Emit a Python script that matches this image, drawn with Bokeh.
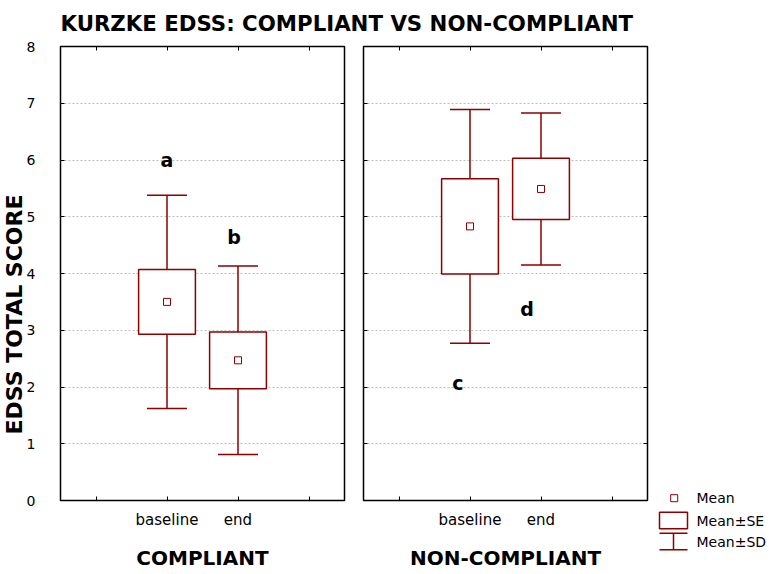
from bokeh.plotting import figure
from bokeh.models import (ColumnDataSource, Range1d, FactorRange, FixedTicker,
                          LinearAxis, CategoricalAxis, Whisker, TeeHead, Title,
                          CustomLabelingPolicy)
from bokeh.layouts import row, column
from bokeh.embed import file_html
from bokeh.resources import INLINE
from bokeh.core.properties import value

# ---------------- data ----------------
title_text = "KURZKE EDSS: COMPLIANT VS NON-COMPLIANT"
y_title = "EDSS TOTAL SCORE"
groups = ["COMPLIANT", "NON-COMPLIANT"]
time_points = ["baseline", "end"]

compliant_mean = [3.50, 2.47]
compliant_se = [0.57, 0.50]
compliant_sd = [1.88, 1.66]

noncompliant_mean = [4.83, 5.49]
noncompliant_se = [0.84, 0.54]
noncompliant_sd = [2.06, 1.34]

compliant_letters = ["a", "b"]
compliant_letter_y = [6.00, 4.65]
noncompliant_letters = ["c", "d"]
noncompliant_letter_y = [2.07, 3.37]

y_ticks = [0, 1, 2, 3, 4, 5, 6, 7, 8]
legend_labels = ["Mean", "Mean\u00b1SE", "Mean\u00b1SD"]

# ---------------- style ----------------
RED = "#8b0000"
FONT = "DejaVu Sans"
letter_dx = {"COMPLIANT": [0, -4], "NON-COMPLIANT": [-12, -14]}
TOP, FRAME_H, BOTTOM = 8, 454, 74

HIDE_ALL = "for (const i of [...indices]) { indices.unset(i) } return indices"
HIDE_ENDS = "indices.unset(0); indices.unset(indices.size - 1); return indices"


def style_axis(ax, show_labels, ticks_in=4):
    ax.axis_line_color = None
    ax.major_tick_in = ticks_in
    ax.major_tick_out = 0
    ax.minor_tick_line_color = None
    ax.major_tick_line_color = "black"
    ax.major_tick_line_width = 1
    ax.major_label_text_font = FONT
    ax.major_label_text_color = "black"
    if not show_labels:
        ax.major_label_policy = CustomLabelingPolicy(code=HIDE_ALL)
        ax.major_label_text_font_size = "1px"
        ax.major_label_standoff = 0


def make_panel(group, mean, se, sd, letters, letter_y, show_y, left_border, right_border):
    factors = [" "] + time_points + ["  "]
    p = figure(x_range=FactorRange(*factors, range_padding=0, factor_padding=0),
               y_range=Range1d(0, 8),
               frame_width=284, frame_height=FRAME_H,
               min_border_left=left_border, min_border_right=right_border,
               min_border_top=TOP, min_border_bottom=BOTTOM,
               output_backend="svg", toolbar_location=None, title=None)
    p.background_fill_color = "white"
    p.border_fill_color = "white"
    p.outline_line_color = "black"
    p.outline_line_width = 1.5
    p.xgrid.grid_line_color = None
    p.ygrid.grid_line_color = "#bdbdbd"
    p.ygrid.grid_line_dash = "2 2"
    p.ygrid.grid_line_width = 1
    p.ygrid.ticker = FixedTicker(ticks=y_ticks)

    # bottom axis
    xb = p.xaxis[0]
    style_axis(xb, True)
    xb.major_label_policy = CustomLabelingPolicy(code=HIDE_ENDS)
    xb.major_label_text_font_size = "15px"
    xb.major_label_standoff = 10
    xb.axis_label = group
    xb.axis_label_text_font = FONT
    xb.axis_label_text_font_style = "bold"
    xb.axis_label_text_font_size = "20px"
    xb.axis_label_text_color = "black"
    xb.axis_label_standoff = 14

    # left axis
    yl = p.yaxis[0]
    yl.ticker = FixedTicker(ticks=y_ticks)
    style_axis(yl, show_y)
    if show_y:
        yl.major_label_text_font_size = "14px"
        yl.major_label_standoff = 25

    # top & right axes (inward ticks, no labels)
    xt = CategoricalAxis()
    style_axis(xt, False)
    p.add_layout(xt, "above")
    yr = LinearAxis(ticker=FixedTicker(ticks=y_ticks))
    style_axis(yr, False)
    p.add_layout(yr, "right")

    src = ColumnDataSource(dict(
        tp=time_points,
        mean=mean,
        se_lo=[m - s for m, s in zip(mean, se)],
        se_hi=[m + s for m, s in zip(mean, se)],
        sd_lo=[m - s for m, s in zip(mean, sd)],
        sd_hi=[m + s for m, s in zip(mean, sd)],
        letter=letters,
        ly=letter_y,
        dx=letter_dx[group],
    ))

    wh = Whisker(base="tp", lower="sd_lo", upper="sd_hi", source=src,
                 line_color=RED, line_width=1.5, level="underlay",
                 upper_head=TeeHead(size=40, line_color=RED, line_width=1.5),
                 lower_head=TeeHead(size=40, line_color=RED, line_width=1.5))
    p.add_layout(wh)

    p.vbar(x="tp", bottom="se_lo", top="se_hi", width=0.8, source=src,
           fill_color="white", line_color=RED, line_width=1.5)
    p.scatter(x="tp", y="mean", source=src, marker="square", size=7,
              fill_color="white", line_color=RED, line_width=1)
    p.text(x="tp", y="ly", text="letter", source=src, x_offset="dx",
           text_font=value(FONT), text_font_style="bold", text_font_size="19px",
           text_align="center", text_baseline="alphabetic", text_color="black")
    return p


f1 = make_panel(groups[0], compliant_mean, compliant_se, compliant_sd,
                compliant_letters, compliant_letter_y, True, 60, 9)
f1.add_layout(Title(text=y_title, align="left", offset=66, standoff=-6,
                    text_font=FONT, text_font_style="bold", text_font_size="22px",
                    text_color="black"), "left")

f2 = make_panel(groups[1], noncompliant_mean, noncompliant_se, noncompliant_sd,
                noncompliant_letters, noncompliant_letter_y, False, 10, 9)

# ---------------- legend panel (coordinates = pixels below panel top) ----------------
f3 = figure(frame_width=113, frame_height=520, x_range=Range1d(0, 113), y_range=Range1d(520, 0),
            x_axis_location=None, y_axis_location=None, min_border=0, min_border_top=TOP,
            output_backend="svg", toolbar_location=None, title=None)
f3.outline_line_color = None
f3.grid.grid_line_color = None
f3.scatter(x=[17.7], y=[451.7], marker="square", size=7, fill_color="white",
           line_color=RED, line_width=1)
f3.rect(x=[17], y=[474], width=28, height=16.6, fill_color="white",
        line_color=RED, line_width=1.5)
f3.segment(x0=[3, 3, 17], y0=[486.7, 503.3, 486.7], x1=[31, 31, 17], y1=[486.7, 503.3, 503.3],
           line_color=RED, line_width=1.5)
f3.text(x=[40, 40, 40], y=[451.7, 474, 495], text=legend_labels,
        text_font=value(FONT), text_font_size="14px", text_baseline="middle",
        text_align="left", text_color="black")

# ---------------- title panel ----------------
ft = figure(frame_width=769, frame_height=38, x_range=Range1d(0, 769), y_range=Range1d(38, 0),
            x_axis_location=None, y_axis_location=None, min_border=0,
            output_backend="svg", toolbar_location=None, title=None)
ft.outline_line_color = None
ft.grid.grid_line_color = None
ft.text(x=[60], y=[23], text=[title_text], text_font=value(FONT),
        text_font_style="bold", text_font_size="21.3px", text_baseline="alphabetic",
        text_align="left", text_color="black")

layout = column(ft, row(f1, f2, f3, spacing=0), spacing=0)

open("out.html", "w").write(file_html(layout, INLINE))
